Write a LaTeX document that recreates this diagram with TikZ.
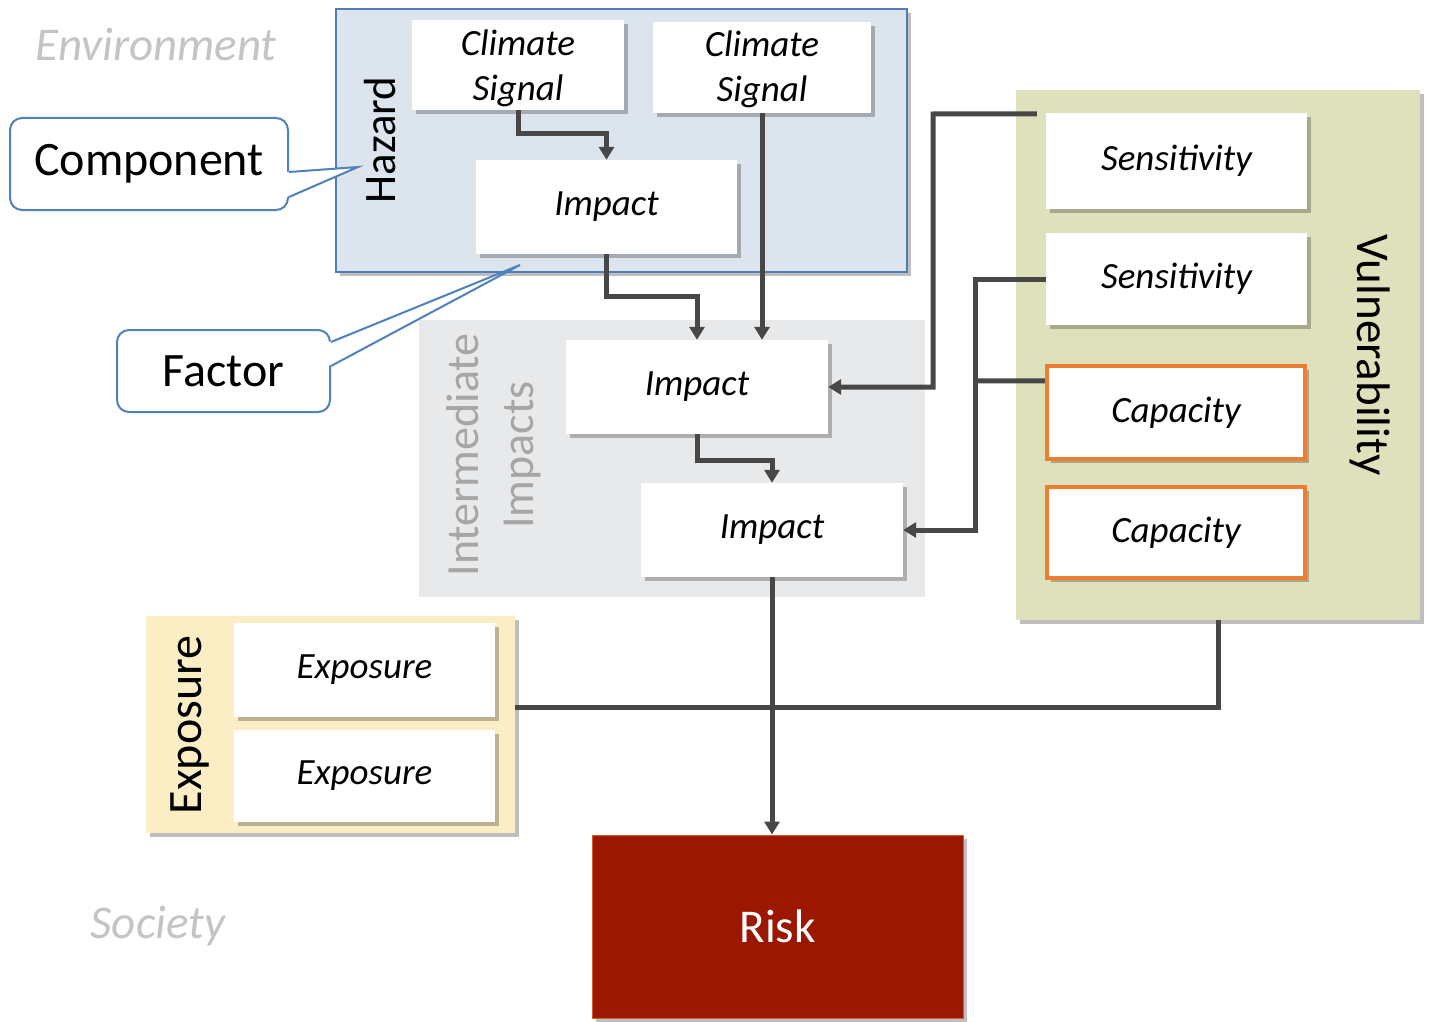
\documentclass[tikz,border=0pt]{standalone}
\usepackage{fontspec}
\setmainfont{Carlito}
\usetikzlibrary{arrows.meta,shadows}
\definecolor{hazfill}{HTML}{DCE4ED}
\definecolor{hazline}{HTML}{4F7DB5}
\definecolor{intfill}{HTML}{E8E9EB}
\definecolor{vulfill}{HTML}{DFE1BC}
\definecolor{expfill}{HTML}{FBEEC4}
\definecolor{capline}{HTML}{ED7D31}
\definecolor{riskfill}{HTML}{9B1700}
\definecolor{connc}{HTML}{474747}
\definecolor{callc}{HTML}{4F81BD}
\definecolor{ghost}{HTML}{C4C4C4}
\definecolor{midgrey}{HTML}{A6A6A6}
\begin{document}
\begin{tikzpicture}[x=1pt,y=-1pt,
  shd/.style={drop shadow={shadow xshift=4pt,shadow yshift=-4pt,fill=black,opacity=0.25}},
  bigfont/.style={font=\fontsize{48}{54}\selectfont},
  itfont/.style={font=\fontsize{37}{45}\selectfont\itshape},
  container/.style={inner sep=0pt},
  factorbox/.style={shd,fill=white,inner sep=0pt,align=center,itfont,text=black},
  capbox/.style={factorbox,draw=capline,line width=4.5pt},
  conn/.style={draw=connc,line width=5pt},
  arr/.style={conn,-{Triangle[length=13pt,width=15pt]}},
  callbox/.style={draw=callc,line width=2pt,fill=white,rounded corners=12pt,inner sep=0pt,bigfont,text=black},
  calledge/.style={draw=callc,line width=2pt}
]
\useasboundingbox (0,0) rectangle (1429,1022);

% background labels
\node[font=\fontsize{47}{54}\selectfont\itshape,text=ghost] (env) at (156,45) {Environment};
\node[font=\fontsize{47}{54}\selectfont\itshape,text=ghost] (soc) at (158,926) {Society};

% containers
\node[container,shd,fill=hazfill,draw=hazline,line width=2.5pt,minimum width=571pt,minimum height=263pt] (haz) at (621.5,140.5) {};
\node[container,fill=intfill,minimum width=506pt,minimum height=277pt] (intc) at (672,458.5) {};
\node[container,shd,fill=vulfill,minimum width=404pt,minimum height=530pt] (vul) at (1218,355) {};
\node[container,shd,fill=expfill,minimum width=369pt,minimum height=217pt] (expc) at (330.5,724.5) {};

% container labels
\node[rotate=90,font=\fontsize{45}{50}\selectfont] (hazl) at (380,140) {Hazard};
\node[rotate=90,align=center,font=\fontsize{46}{55}\selectfont,text=midgrey] (intl) at (494,455) {Intermediate\\Impacts};
\node[rotate=-90,font=\fontsize{47}{52}\selectfont] (vull) at (1370,355) {Vulnerability};
\node[rotate=90,font=\fontsize{48}{52}\selectfont] (expl) at (190,725) {Exposure};

% factor boxes
\node[factorbox,minimum width=212pt,minimum height=90pt] (cs1) at (518,65) {};
\node[itfont,align=center] (cs1t) at ([yshift=-3pt]cs1.center) {Climate\\Signal};
\node[factorbox,minimum width=218pt,minimum height=91pt] (cs2) at (762,67.5) {};
\node[itfont,align=center] (cs2t) at ([yshift=-2pt]cs2.center) {Climate\\Signal};
\node[factorbox,minimum width=261pt,minimum height=94pt] (imp0) at (606.5,207) {Impact};
\node[factorbox,minimum width=262pt,minimum height=94pt] (imp1) at (697,387) {Impact};
\node[factorbox,minimum width=262pt,minimum height=94pt] (imp2) at (772,530) {Impact};
\node[factorbox,minimum width=261pt,minimum height=96pt] (sens1) at (1176.5,161) {Sensitivity};
\node[factorbox,minimum width=261pt,minimum height=92pt] (sens2) at (1176.5,279) {Sensitivity};
\node[capbox,minimum width=258pt,minimum height=93pt] (cap1) at (1176,412.5) {Capacity};
\node[capbox,minimum width=258pt,minimum height=91pt] (cap2) at (1176,532.5) {Capacity};
\node[factorbox,minimum width=261pt,minimum height=94pt] (exp1) at (364.5,670) {Exposure};
\node[factorbox,minimum width=261pt,minimum height=92pt] (exp2) at (364.5,776) {Exposure};

% risk
\node[shd,fill=riskfill,draw=capline!70!riskfill,line width=1pt,minimum width=371pt,minimum height=183pt,inner sep=0pt,text=white,font=\fontsize{47}{54}\selectfont] (risk) at (777.5,926.5) {Risk};

% connectors
\draw[arr] (cs1.south) -- ++(0,23) -| (imp0.north);
\draw[arr] (imp0.south) -- ++(0,42) -| (imp1.north);
\draw[arr] (cs2.south) -- (cs2.south |- imp1.north);
\draw[arr] (imp1.south) -- ++(0,26) -| (imp2.north);
\coordinate (s1c) at ([xshift=-9pt,yshift=-1pt]sens1.north west);
\draw[arr] (s1c) -- (933,114) |- (imp1.east);
\draw[arr] (sens2.west) -- (975,279) |- (imp2.east);
\coordinate (c1c) at ([yshift=-17pt]cap1.north west);
\draw[conn] (c1c) -- (975,381);
\draw[conn] (vul.south) |- ([yshift=17.5pt]expc.east);
\draw[arr] (imp2.south) -- (imp2.south |- risk.north);

% callouts
\node[callbox,minimum width=278pt,minimum height=92pt] (comp) at (149,164) {Component};
\coordinate (ctip) at (358,167);
\fill[white] ([yshift=-8pt,xshift=-2pt]comp.east) -- (ctip) -- ([yshift=-33pt,xshift=-2pt]comp.east) -- cycle;
\draw[calledge] ([yshift=-8pt]comp.east) -- (ctip) -- ([yshift=-33pt]comp.east);

\node[callbox,minimum width=213pt,minimum height=82pt] (fac) at (223.5,371) {Factor};
\coordinate (ftip) at (520,265);
\fill[white] ([yshift=29pt,xshift=-2pt]fac.east) -- (ftip) -- ([yshift=5pt,xshift=-2pt]fac.east) -- cycle;
\draw[calledge] ([yshift=29pt]fac.east) -- (ftip) -- ([yshift=5pt]fac.east);
\end{tikzpicture}
\end{document}
